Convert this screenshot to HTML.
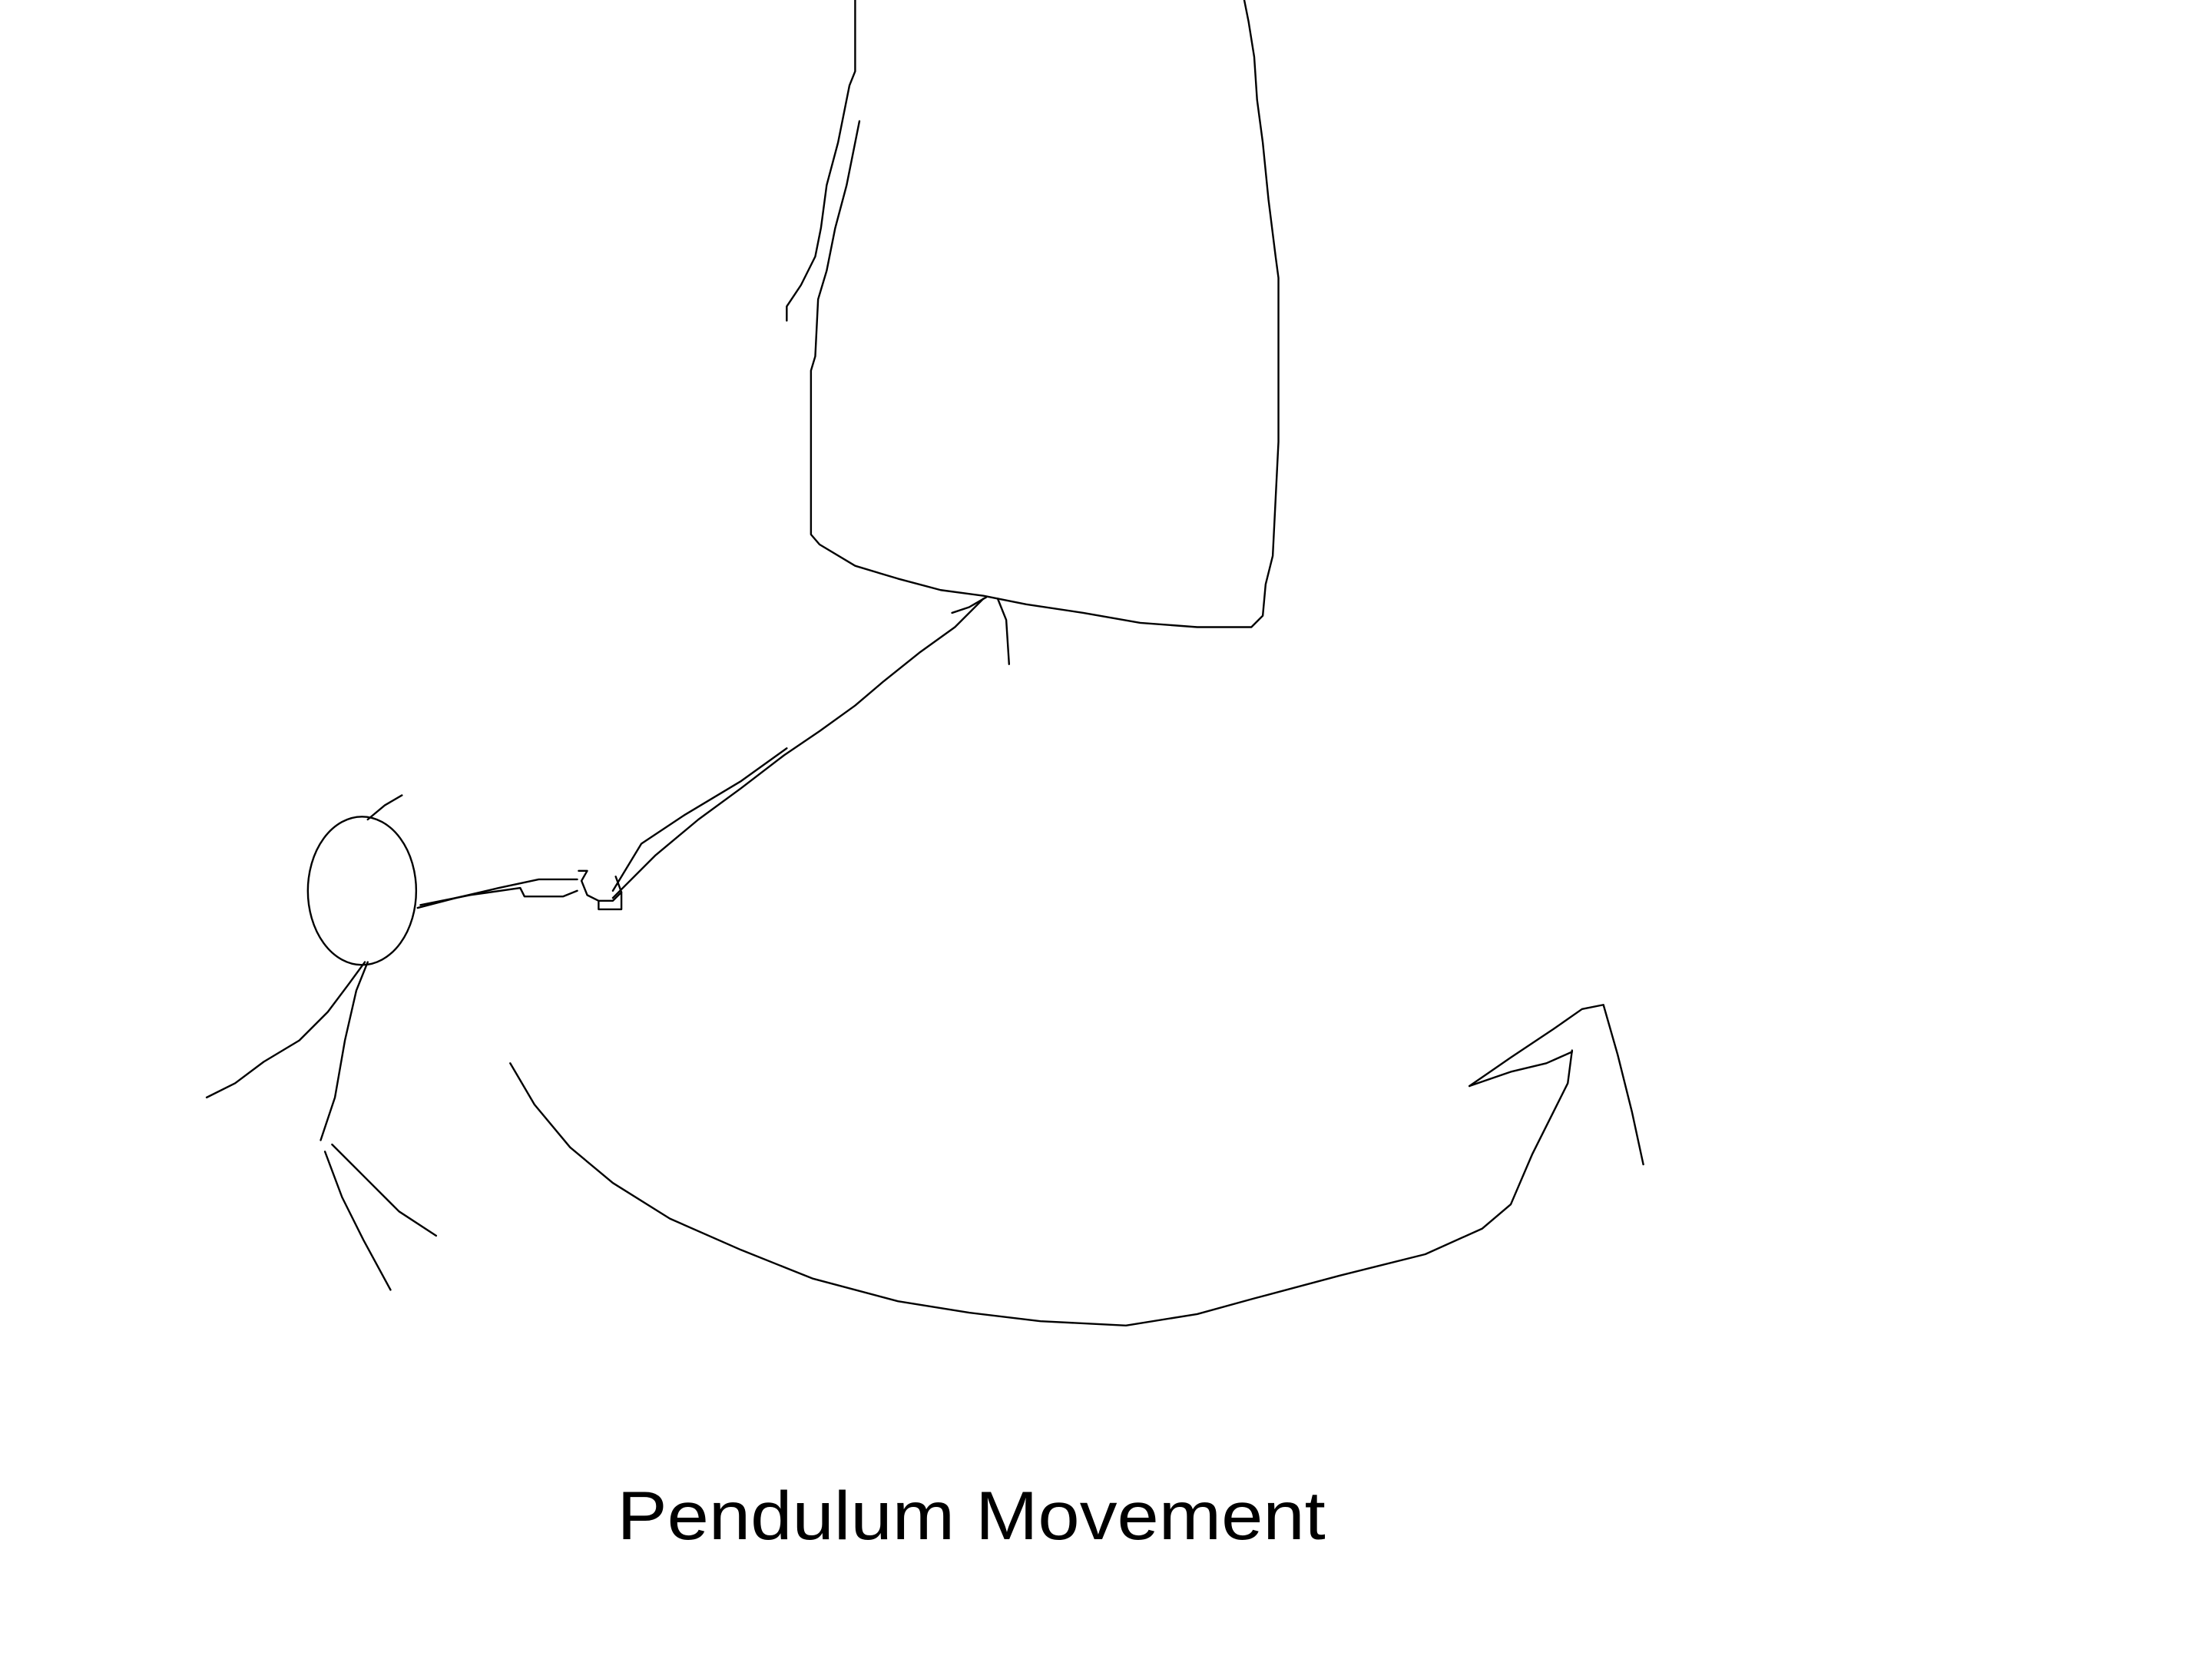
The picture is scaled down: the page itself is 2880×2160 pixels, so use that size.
<!DOCTYPE html>
<html><head><meta charset="utf-8"><style>
html,body{margin:0;padding:0;background:#fff;}
svg{display:block;}
</style></head><body>
<svg width="2880" height="2160" viewBox="0 0 1552 1164" xmlns="http://www.w3.org/2000/svg">
<rect width="1552" height="1164" fill="#fff"/>
<g fill="none" stroke="#000" stroke-width="1.3" stroke-linejoin="round" stroke-linecap="round">
<g>
<polyline points="600,0 600,50 596,60 588,100 580,130 576,160 572,180 562,200 552,215 552,225"/>
<polyline points="603,85 598,110 594,130 586,160 580,190 574,210 572,250 569,260 569,375 575,382 600,397 630,406 660,414 690,418 720,424 760,430 800,437 840,440 878,440 886,432 888,410 893,390 895,350 897,310 897,195 895,180 890,140 886,100 882,70 880,40 876,15 873,0"/>
<polyline points="668,430 680,426 692,419"/>
<polyline points="700,420 706,435 708,466"/>
</g>
<g>
<polyline points="690,420 670,440 645,458 620,478 600,495 575,513 550,530 520,553 490,575 460,600 430,630"/>
<polyline points="552,525 520,548 480,572 450,592 430,625"/>
</g>
<g>
<polyline points="406,611 412,611 408,618 412,628 420,632 430,632 436,626 432,615"/>
<polyline points="420,632 420,638 436,638 436,626"/>
</g>
<g>
<ellipse cx="254" cy="625" rx="38" ry="52"/>
<polyline points="258,575 270,565 282,558"/>
<polyline points="293,637 320,630 350,623 378,617 405,617"/>
<polyline points="295,635 330,628 365,623 368,629 395,629 405,625"/>
<polyline points="258,675 250,695 242,730 235,770 225,800"/>
<polyline points="256,675 245,690 230,710 210,730 185,745 165,760 145,770"/>
<polyline points="228,808 240,840 255,870 274,905"/>
<polyline points="233,803 255,825 280,850 306,867"/>
</g>
<g>
<polyline points="358,746 375,775 400,805 430,830 470,855 520,877 570,897 630,913 680,921 730,927 790,930 840,922 880,911 940,895 1000,880 1040,862 1060,845 1075,810 1090,780 1100,760 1103,737"/>
<polyline points="1031,762 1060,742 1090,722 1110,708 1125,705 1135,740 1145,780 1153,817"/>
<polyline points="1031,762 1060,752 1085,746 1103,738"/>
</g>
</g>
<text x="433" y="1080" font-family="'Liberation Sans', sans-serif" font-size="48" fill="#000" textLength="497" lengthAdjust="spacingAndGlyphs">Pendulum Movement</text>
</svg>
</body></html>
